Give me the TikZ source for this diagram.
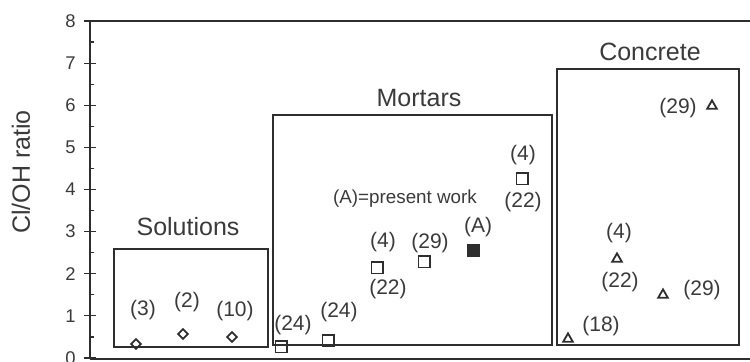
\documentclass[tikz,border=0pt]{standalone}
\usepackage{fontspec}
\setmainfont{Liberation Sans}
\usepackage{xcolor}
\definecolor{plotgrey}{HTML}{2E2E2E}
\definecolor{textgrey}{HTML}{3A3A3A}
\usetikzlibrary{shapes.geometric}

\begin{document}
\begin{tikzpicture}[x=0.5pt,y=-0.5pt,
  axisline/.style={line width=1pt,plotgrey},
  tickline/.style={line width=0.6pt,plotgrey},
  groupbox/.style={line width=0.8pt,plotgrey},
  ticklabel/.style={text=textgrey,font=\fontsize{9.2}{10}\selectfont,inner sep=0pt},
  grouptitle/.style={text=textgrey,font=\fontsize{12.5}{14}\selectfont,inner sep=0pt},
  ptlabel/.style={text=textgrey,font=\fontsize{10.5}{12}\selectfont,inner sep=0pt},
  sqpt/.style={draw=plotgrey,line width=0.9pt,rectangle,minimum size=5.6pt,inner sep=0pt},
  dmpt/.style={draw=plotgrey,line width=0.85pt,diamond,minimum size=5.2pt,inner sep=0pt},
  tript/.style={draw=plotgrey,line width=0.9pt,regular polygon,regular polygon sides=3,minimum size=5.6pt,inner sep=0pt}]
\useasboundingbox (0,0) rectangle (750,362);

% axes
\draw[axisline] (90,21) -- (750,21);
\draw[axisline] (90,21) -- (90,359);
\draw[axisline] (90,359) -- (750,359);
\foreach \v in {0,...,8} {
  \draw[tickline] (84,{358-42.125*\v}) -- (96,{358-42.125*\v});
  \node[ticklabel,anchor=east] (tick\v) at (76,{358-42.125*\v}) {\v};
}
\foreach \v in {0,...,7}
  \draw[tickline] (90,{358-42.125*(\v+0.5)}) -- (94,{358-42.125*(\v+0.5)});
\node[grouptitle,rotate=90] (ylabel) at (21,172) {Cl/OH ratio};

% Solutions
\draw[groupbox] (114,249) rectangle (268,347);
\node[grouptitle] (soltitle) at (188,227) {Solutions};
\node[dmpt] (sol3) at (136,344) {};
\node[dmpt] (sol2) at (183,334) {};
\node[dmpt] (sol10) at (232,337) {};
\node[ptlabel] (sol3lab) at (143,310) {(3)};
\node[ptlabel] (sol2lab) at (187,302) {(2)};
\node[ptlabel] (sol10lab) at (235,311) {(10)};

% Mortars
\draw[groupbox] (273,115) rectangle (552,345);
\node[grouptitle] (mortitle) at (419,98) {Mortars};
\node[sqpt] (mor24a) at (281,347) {};
\node[sqpt] (mor24b) at (328,341) {};
\node[sqpt] (mor4) at (377,268) {};
\node[sqpt] (mor29) at (424,262) {};
\node[sqpt,fill=plotgrey] (morA) at (473,251) {};
\node[sqpt] (mor4b) at (522,179) {};
\node[ptlabel] (mor24alab) at (293,325) {(24)};
\node[ptlabel] (mor24blab) at (339,312) {(24)};
\node[ptlabel] (mor4lab) at (383,242) {(4)};
\node[ptlabel] (mor22lab) at (388,289) {(22)};
\node[ptlabel] (mor29lab) at (430,243) {(29)};
\node[ptlabel] (morAlab) at (478,227) {(A)};
\node[ptlabel] (mor4blab) at (523,155) {(4)};
\node[ptlabel] (mor22blab) at (523,202) {(22)};
\node[ptlabel,font=\fontsize{9.4}{11}\selectfont] (morkey) at (405,199) {(A)=present work};

% Concrete
\draw[groupbox] (557,69) rectangle (739,345);
\node[grouptitle] (contitle) at (650,52) {Concrete};
\node[tript] (con29a) at (712,106) {};
\node[tript] (con4) at (617,259) {};
\node[tript] (con29b) at (663,295) {};
\node[tript] (con18) at (568,339) {};
\node[ptlabel] (con29alab) at (678,108) {(29)};
\node[ptlabel] (con4lab) at (619,233) {(4)};
\node[ptlabel] (con22lab) at (620,282) {(22)};
\node[ptlabel] (con29blab) at (702,290) {(29)};
\node[ptlabel] (con18lab) at (601,326) {(18)};
\end{tikzpicture}
\end{document}
